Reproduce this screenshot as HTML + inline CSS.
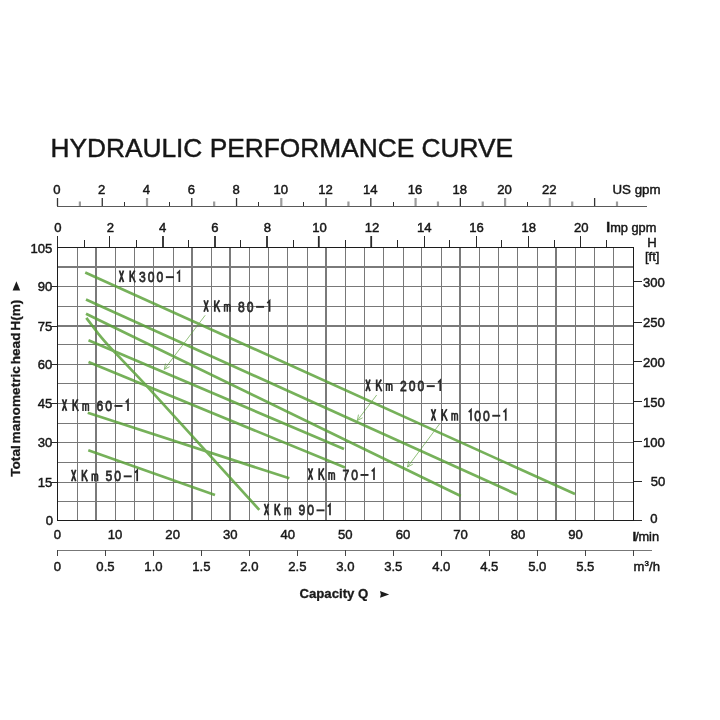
<!DOCTYPE html>
<html><head><meta charset="utf-8"><title>Hydraulic Performance Curve</title>
<style>html,body{margin:0;padding:0;background:#fff;}body{width:720px;height:720px;overflow:hidden;font-family:"Liberation Sans", sans-serif;}svg{display:block;font-family:"Liberation Sans", sans-serif;}</style>
</head><body>
<svg width="720" height="720" viewBox="0 0 720 720">
<rect x="0" y="0" width="720" height="720" fill="#ffffff"/>
<defs><filter id="gs" x="0" y="0" width="100%" height="100%" filterUnits="userSpaceOnUse" color-interpolation-filters="sRGB"><feColorMatrix type="saturate" values="0"/></filter></defs>
<g filter="url(#gs)">
<text x="50.4" y="156.9" font-size="26.3" fill="#161616" stroke="#161616" stroke-width="0.45">HYDRAULIC PERFORMANCE CURVE</text>
</g>
<g shape-rendering="crispEdges">
<rect x="77.00" y="248" width="1" height="272" fill="#787878"/>
<rect x="95.00" y="248" width="2" height="272" fill="#7a7a7a"/>
<rect x="115.00" y="248" width="1" height="272" fill="#787878"/>
<rect x="134.00" y="248" width="1" height="272" fill="#787878"/>
<rect x="153.00" y="248" width="1" height="272" fill="#787878"/>
<rect x="173.00" y="248" width="1" height="272" fill="#787878"/>
<rect x="191.00" y="248" width="2" height="272" fill="#7a7a7a"/>
<rect x="211.00" y="248" width="1" height="272" fill="#787878"/>
<rect x="229.00" y="248" width="2" height="272" fill="#7a7a7a"/>
<rect x="249.00" y="248" width="1" height="272" fill="#787878"/>
<rect x="268.00" y="248" width="1" height="272" fill="#787878"/>
<rect x="287.00" y="248" width="1" height="272" fill="#787878"/>
<rect x="307.00" y="248" width="1" height="272" fill="#787878"/>
<rect x="325.00" y="248" width="2" height="272" fill="#7a7a7a"/>
<rect x="345.00" y="248" width="1" height="272" fill="#787878"/>
<rect x="364.00" y="248" width="1" height="272" fill="#787878"/>
<rect x="383.00" y="248" width="1" height="272" fill="#787878"/>
<rect x="403.00" y="248" width="1" height="272" fill="#787878"/>
<rect x="421.00" y="248" width="1" height="272" fill="#787878"/>
<rect x="441.00" y="248" width="1" height="272" fill="#787878"/>
<rect x="459.00" y="248" width="2" height="272" fill="#7a7a7a"/>
<rect x="479.00" y="248" width="1" height="272" fill="#787878"/>
<rect x="498.00" y="248" width="1" height="272" fill="#787878"/>
<rect x="517.00" y="248" width="1" height="272" fill="#787878"/>
<rect x="537.00" y="248" width="1" height="272" fill="#787878"/>
<rect x="555.00" y="248" width="2" height="272" fill="#7a7a7a"/>
<rect x="575.00" y="248" width="1" height="272" fill="#787878"/>
<rect x="594.00" y="248" width="1" height="272" fill="#787878"/>
<rect x="613.00" y="248" width="1" height="272" fill="#787878"/>
<rect x="58" y="266.00" width="575" height="2" fill="#7a7a7a"/>
<rect x="58" y="286.00" width="575" height="1" fill="#787878"/>
<rect x="58" y="306.00" width="575" height="1" fill="#787878"/>
<rect x="58" y="325.00" width="575" height="2" fill="#7a7a7a"/>
<rect x="58" y="344.00" width="575" height="1" fill="#787878"/>
<rect x="58" y="364.00" width="575" height="1" fill="#787878"/>
<rect x="58" y="383.00" width="575" height="1" fill="#787878"/>
<rect x="58" y="403.00" width="575" height="1" fill="#787878"/>
<rect x="58" y="423.00" width="575" height="1" fill="#787878"/>
<rect x="58" y="442.00" width="575" height="1" fill="#787878"/>
<rect x="58" y="462.00" width="575" height="1" fill="#787878"/>
<rect x="58" y="482.00" width="575" height="1" fill="#787878"/>
<rect x="58" y="501.00" width="575" height="1" fill="#787878"/>
</g>
<path d="M57,247h577v274h-577z M58,248v272h575v-272z" fill="#1c1c1c" fill-rule="evenodd" shape-rendering="crispEdges"/>
<g opacity="0.82">
<line x1="85.25" y1="272.55" x2="575.00" y2="494.00" stroke="#59a037" stroke-width="2.7" stroke-linecap="butt"/>
<line x1="86.00" y1="299.55" x2="517.00" y2="494.50" stroke="#59a037" stroke-width="2.7" stroke-linecap="butt"/>
<line x1="86.00" y1="313.76" x2="460.70" y2="496.00" stroke="#59a037" stroke-width="2.7" stroke-linecap="butt"/>
<line x1="88.50" y1="340.32" x2="344.00" y2="449.00" stroke="#59a037" stroke-width="2.7" stroke-linecap="butt"/>
<line x1="88.50" y1="362.09" x2="345.00" y2="467.50" stroke="#59a037" stroke-width="2.7" stroke-linecap="butt"/>
<line x1="87.75" y1="412.67" x2="289.30" y2="478.30" stroke="#59a037" stroke-width="2.7" stroke-linecap="butt"/>
<line x1="88.30" y1="450.35" x2="215.00" y2="495.00" stroke="#59a037" stroke-width="2.7" stroke-linecap="butt"/>
<path d="M86.3,317.9 L98,333.3 Q106,343 110.6,347.9 L147.1,386.4 L259.3,509.9" fill="none" stroke="#59a037" stroke-width="2.7" stroke-linejoin="round"/>
<line x1="205.20" y1="315.30" x2="164.30" y2="369.40" stroke="#59a037" stroke-width="0.8"/>
<line x1="164.30" y1="369.40" x2="169.64" y2="366.66" stroke="#59a037" stroke-width="0.8"/>
<line x1="164.30" y1="369.40" x2="165.48" y2="363.52" stroke="#59a037" stroke-width="0.8"/>
<line x1="376.70" y1="395.00" x2="357.30" y2="420.50" stroke="#59a037" stroke-width="0.8"/>
<line x1="357.30" y1="420.50" x2="362.65" y2="417.78" stroke="#59a037" stroke-width="0.8"/>
<line x1="357.30" y1="420.50" x2="358.49" y2="414.62" stroke="#59a037" stroke-width="0.8"/>
<line x1="439.50" y1="424.00" x2="407.50" y2="467.00" stroke="#59a037" stroke-width="0.8"/>
<line x1="407.50" y1="467.00" x2="412.82" y2="464.22" stroke="#59a037" stroke-width="0.8"/>
<line x1="407.50" y1="467.00" x2="408.63" y2="461.11" stroke="#59a037" stroke-width="0.8"/>
</g>
<g filter="url(#gs)">
<path d="M119.50,270.50 l4.0,11.60 M123.50,270.50 l-4.0,11.60" stroke="#2b2b2b" stroke-width="1.75" fill="none"/>
<path d="M130.20,270.50 v11.60 M134.80,270.50 l-4.4,7.3 M131.90,275.40 l3.3,6.9" stroke="#2b2b2b" stroke-width="1.75" fill="none"/>
<text transform="translate(142.40,282.10) scale(0.800,1)" text-anchor="middle" font-size="15.2" fill="#2b2b2b" stroke="#2b2b2b" stroke-width="0.75">3</text>
<text transform="translate(151.15,282.10) scale(0.800,1)" text-anchor="middle" font-size="15.2" fill="#2b2b2b" stroke="#2b2b2b" stroke-width="0.75">0</text>
<text transform="translate(159.90,282.10) scale(0.800,1)" text-anchor="middle" font-size="15.2" fill="#2b2b2b" stroke="#2b2b2b" stroke-width="0.75">0</text>
<rect x="165.85" y="276.20" width="8.0" height="1.9" fill="#2b2b2b"/>
<path d="M177.05,273.50 l2.3,-2.3 v10.90" stroke="#2b2b2b" stroke-width="1.7" fill="none" stroke-linejoin="miter"/>
<path d="M204.10,300.20 l4.0,11.60 M208.10,300.20 l-4.0,11.60" stroke="#2b2b2b" stroke-width="1.75" fill="none"/>
<path d="M214.80,300.20 v11.60 M219.40,300.20 l-4.4,7.3 M216.50,305.10 l3.3,6.9" stroke="#2b2b2b" stroke-width="1.75" fill="none"/>
<path d="M224.60,311.80 v-7.9 M224.60,311.80 v-5.6 q0,-1.6 1.35,-1.6 q1.35,0 1.35,1.6 v5.6 M227.30,311.80 v-5.6 q0,-1.6 1.35,-1.6 q1.35,0 1.35,1.6 v5.6" stroke="#2b2b2b" stroke-width="1.55" fill="none"/>
<text transform="translate(241.40,311.80) scale(0.800,1)" text-anchor="middle" font-size="15.2" fill="#2b2b2b" stroke="#2b2b2b" stroke-width="0.75">8</text>
<text transform="translate(250.15,311.80) scale(0.800,1)" text-anchor="middle" font-size="15.2" fill="#2b2b2b" stroke="#2b2b2b" stroke-width="0.75">0</text>
<rect x="256.10" y="305.90" width="8.0" height="1.9" fill="#2b2b2b"/>
<path d="M267.30,303.20 l2.3,-2.3 v10.90" stroke="#2b2b2b" stroke-width="1.7" fill="none" stroke-linejoin="miter"/>
<path d="M62.50,399.30 l4.0,11.60 M66.50,399.30 l-4.0,11.60" stroke="#2b2b2b" stroke-width="1.75" fill="none"/>
<path d="M73.20,399.30 v11.60 M77.80,399.30 l-4.4,7.3 M74.90,404.20 l3.3,6.9" stroke="#2b2b2b" stroke-width="1.75" fill="none"/>
<path d="M83.00,410.90 v-7.9 M83.00,410.90 v-5.6 q0,-1.6 1.35,-1.6 q1.35,0 1.35,1.6 v5.6 M85.70,410.90 v-5.6 q0,-1.6 1.35,-1.6 q1.35,0 1.35,1.6 v5.6" stroke="#2b2b2b" stroke-width="1.55" fill="none"/>
<text transform="translate(99.80,410.90) scale(0.800,1)" text-anchor="middle" font-size="15.2" fill="#2b2b2b" stroke="#2b2b2b" stroke-width="0.75">6</text>
<text transform="translate(108.55,410.90) scale(0.800,1)" text-anchor="middle" font-size="15.2" fill="#2b2b2b" stroke="#2b2b2b" stroke-width="0.75">0</text>
<rect x="114.50" y="405.00" width="8.0" height="1.9" fill="#2b2b2b"/>
<path d="M125.70,402.30 l2.3,-2.3 v10.90" stroke="#2b2b2b" stroke-width="1.7" fill="none" stroke-linejoin="miter"/>
<path d="M71.70,469.70 l4.0,11.60 M75.70,469.70 l-4.0,11.60" stroke="#2b2b2b" stroke-width="1.75" fill="none"/>
<path d="M82.40,469.70 v11.60 M87.00,469.70 l-4.4,7.3 M84.10,474.60 l3.3,6.9" stroke="#2b2b2b" stroke-width="1.75" fill="none"/>
<path d="M92.20,481.30 v-7.9 M92.20,481.30 v-5.6 q0,-1.6 1.35,-1.6 q1.35,0 1.35,1.6 v5.6 M94.90,481.30 v-5.6 q0,-1.6 1.35,-1.6 q1.35,0 1.35,1.6 v5.6" stroke="#2b2b2b" stroke-width="1.55" fill="none"/>
<text transform="translate(109.00,481.30) scale(0.800,1)" text-anchor="middle" font-size="15.2" fill="#2b2b2b" stroke="#2b2b2b" stroke-width="0.75">5</text>
<text transform="translate(117.75,481.30) scale(0.800,1)" text-anchor="middle" font-size="15.2" fill="#2b2b2b" stroke="#2b2b2b" stroke-width="0.75">0</text>
<rect x="123.70" y="475.40" width="8.0" height="1.9" fill="#2b2b2b"/>
<path d="M134.90,472.70 l2.3,-2.3 v10.90" stroke="#2b2b2b" stroke-width="1.7" fill="none" stroke-linejoin="miter"/>
<path d="M308.50,468.30 l4.0,11.60 M312.50,468.30 l-4.0,11.60" stroke="#2b2b2b" stroke-width="1.75" fill="none"/>
<path d="M319.20,468.30 v11.60 M323.80,468.30 l-4.4,7.3 M320.90,473.20 l3.3,6.9" stroke="#2b2b2b" stroke-width="1.75" fill="none"/>
<path d="M329.00,479.90 v-7.9 M329.00,479.90 v-5.6 q0,-1.6 1.35,-1.6 q1.35,0 1.35,1.6 v5.6 M331.70,479.90 v-5.6 q0,-1.6 1.35,-1.6 q1.35,0 1.35,1.6 v5.6" stroke="#2b2b2b" stroke-width="1.55" fill="none"/>
<text transform="translate(345.80,479.90) scale(0.800,1)" text-anchor="middle" font-size="15.2" fill="#2b2b2b" stroke="#2b2b2b" stroke-width="0.75">7</text>
<text transform="translate(354.55,479.90) scale(0.800,1)" text-anchor="middle" font-size="15.2" fill="#2b2b2b" stroke="#2b2b2b" stroke-width="0.75">0</text>
<rect x="360.50" y="474.00" width="8.0" height="1.9" fill="#2b2b2b"/>
<path d="M371.70,471.30 l2.3,-2.3 v10.90" stroke="#2b2b2b" stroke-width="1.7" fill="none" stroke-linejoin="miter"/>
<path d="M264.50,503.70 l4.0,11.60 M268.50,503.70 l-4.0,11.60" stroke="#2b2b2b" stroke-width="1.75" fill="none"/>
<path d="M275.20,503.70 v11.60 M279.80,503.70 l-4.4,7.3 M276.90,508.60 l3.3,6.9" stroke="#2b2b2b" stroke-width="1.75" fill="none"/>
<path d="M285.00,515.30 v-7.9 M285.00,515.30 v-5.6 q0,-1.6 1.35,-1.6 q1.35,0 1.35,1.6 v5.6 M287.70,515.30 v-5.6 q0,-1.6 1.35,-1.6 q1.35,0 1.35,1.6 v5.6" stroke="#2b2b2b" stroke-width="1.55" fill="none"/>
<text transform="translate(301.80,515.30) scale(0.800,1)" text-anchor="middle" font-size="15.2" fill="#2b2b2b" stroke="#2b2b2b" stroke-width="0.75">9</text>
<text transform="translate(310.55,515.30) scale(0.800,1)" text-anchor="middle" font-size="15.2" fill="#2b2b2b" stroke="#2b2b2b" stroke-width="0.75">0</text>
<rect x="316.50" y="509.40" width="8.0" height="1.9" fill="#2b2b2b"/>
<path d="M327.70,506.70 l2.3,-2.3 v10.90" stroke="#2b2b2b" stroke-width="1.7" fill="none" stroke-linejoin="miter"/>
<path d="M366.00,379.50 l4.0,11.60 M370.00,379.50 l-4.0,11.60" stroke="#2b2b2b" stroke-width="1.75" fill="none"/>
<path d="M376.70,379.50 v11.60 M381.30,379.50 l-4.4,7.3 M378.40,384.40 l3.3,6.9" stroke="#2b2b2b" stroke-width="1.75" fill="none"/>
<path d="M386.50,391.10 v-7.9 M386.50,391.10 v-5.6 q0,-1.6 1.35,-1.6 q1.35,0 1.35,1.6 v5.6 M389.20,391.10 v-5.6 q0,-1.6 1.35,-1.6 q1.35,0 1.35,1.6 v5.6" stroke="#2b2b2b" stroke-width="1.55" fill="none"/>
<text transform="translate(403.30,391.10) scale(0.800,1)" text-anchor="middle" font-size="15.2" fill="#2b2b2b" stroke="#2b2b2b" stroke-width="0.75">2</text>
<text transform="translate(412.05,391.10) scale(0.800,1)" text-anchor="middle" font-size="15.2" fill="#2b2b2b" stroke="#2b2b2b" stroke-width="0.75">0</text>
<text transform="translate(420.80,391.10) scale(0.800,1)" text-anchor="middle" font-size="15.2" fill="#2b2b2b" stroke="#2b2b2b" stroke-width="0.75">0</text>
<rect x="426.75" y="385.20" width="8.0" height="1.9" fill="#2b2b2b"/>
<path d="M437.95,382.50 l2.3,-2.3 v10.90" stroke="#2b2b2b" stroke-width="1.7" fill="none" stroke-linejoin="miter"/>
<path d="M431.50,409.10 l4.0,11.60 M435.50,409.10 l-4.0,11.60" stroke="#2b2b2b" stroke-width="1.75" fill="none"/>
<path d="M442.20,409.10 v11.60 M446.80,409.10 l-4.4,7.3 M443.90,414.00 l3.3,6.9" stroke="#2b2b2b" stroke-width="1.75" fill="none"/>
<path d="M452.00,420.70 v-7.9 M452.00,420.70 v-5.6 q0,-1.6 1.35,-1.6 q1.35,0 1.35,1.6 v5.6 M454.70,420.70 v-5.6 q0,-1.6 1.35,-1.6 q1.35,0 1.35,1.6 v5.6" stroke="#2b2b2b" stroke-width="1.55" fill="none"/>
<path d="M468.70,412.10 l2.3,-2.3 v10.90" stroke="#2b2b2b" stroke-width="1.7" fill="none" stroke-linejoin="miter"/>
<text transform="translate(477.55,420.70) scale(0.800,1)" text-anchor="middle" font-size="15.2" fill="#2b2b2b" stroke="#2b2b2b" stroke-width="0.75">0</text>
<text transform="translate(486.30,420.70) scale(0.800,1)" text-anchor="middle" font-size="15.2" fill="#2b2b2b" stroke="#2b2b2b" stroke-width="0.75">0</text>
<rect x="492.25" y="414.80" width="8.0" height="1.9" fill="#2b2b2b"/>
<path d="M503.45,412.10 l2.3,-2.3 v10.90" stroke="#2b2b2b" stroke-width="1.7" fill="none" stroke-linejoin="miter"/>
<rect x="57" y="206" width="590" height="1" fill="#5a5a5a" shape-rendering="crispEdges"/>
<rect x="56.85" y="198" width="1.3" height="8" fill="#333"/>
<rect x="78.78" y="201.5" width="2.2" height="4.5" fill="#9c9c9c"/>
<rect x="101.61" y="198" width="1.3" height="8" fill="#333"/>
<rect x="124.00" y="202" width="1" height="4" fill="#333" shape-rendering="crispEdges"/>
<rect x="145.92" y="198" width="2.2" height="8" fill="#9c9c9c"/>
<rect x="169.00" y="202" width="1" height="4" fill="#333" shape-rendering="crispEdges"/>
<rect x="191.13" y="198" width="1.3" height="8" fill="#333"/>
<rect x="213.06" y="201.5" width="2.2" height="4.5" fill="#9c9c9c"/>
<rect x="235.89" y="198" width="1.3" height="8" fill="#333"/>
<rect x="258.00" y="202" width="1" height="4" fill="#333" shape-rendering="crispEdges"/>
<rect x="280.20" y="198" width="2.2" height="8" fill="#9c9c9c"/>
<rect x="303.00" y="202" width="1" height="4" fill="#333" shape-rendering="crispEdges"/>
<rect x="325.41" y="198" width="1.3" height="8" fill="#333"/>
<rect x="347.34" y="201.5" width="2.2" height="4.5" fill="#9c9c9c"/>
<rect x="370.17" y="198" width="1.3" height="8" fill="#333"/>
<rect x="393.00" y="202" width="1" height="4" fill="#333" shape-rendering="crispEdges"/>
<rect x="414.48" y="198" width="2.2" height="8" fill="#9c9c9c"/>
<rect x="436.86" y="201.5" width="2.2" height="4.5" fill="#9c9c9c"/>
<rect x="459.69" y="198" width="1.3" height="8" fill="#333"/>
<rect x="481.62" y="201.5" width="2.2" height="4.5" fill="#9c9c9c"/>
<rect x="504.00" y="198" width="2.2" height="8" fill="#9c9c9c"/>
<rect x="527.00" y="202" width="1" height="4" fill="#333" shape-rendering="crispEdges"/>
<rect x="548.76" y="198" width="2.2" height="8" fill="#9c9c9c"/>
<rect x="571.14" y="201.5" width="2.2" height="4.5" fill="#9c9c9c"/>
<rect x="593.97" y="198" width="1.3" height="8" fill="#333"/>
<rect x="615.90" y="201.5" width="2.2" height="4.5" fill="#9c9c9c"/>
<text x="57.00" y="193.6" text-anchor="middle" font-size="13.1" fill="#161616" stroke="#161616" stroke-width="0.45">0</text>
<text x="101.76" y="193.6" text-anchor="middle" font-size="13.1" fill="#161616" stroke="#161616" stroke-width="0.45">2</text>
<text x="146.52" y="193.6" text-anchor="middle" font-size="13.1" fill="#161616" stroke="#161616" stroke-width="0.45">4</text>
<text x="191.28" y="193.6" text-anchor="middle" font-size="13.1" fill="#161616" stroke="#161616" stroke-width="0.45">6</text>
<text x="236.04" y="193.6" text-anchor="middle" font-size="13.1" fill="#161616" stroke="#161616" stroke-width="0.45">8</text>
<text x="280.80" y="193.6" text-anchor="middle" font-size="13.1" fill="#161616" stroke="#161616" stroke-width="0.45">10</text>
<text x="325.56" y="193.6" text-anchor="middle" font-size="13.1" fill="#161616" stroke="#161616" stroke-width="0.45">12</text>
<text x="370.32" y="193.6" text-anchor="middle" font-size="13.1" fill="#161616" stroke="#161616" stroke-width="0.45">14</text>
<text x="415.08" y="193.6" text-anchor="middle" font-size="13.1" fill="#161616" stroke="#161616" stroke-width="0.45">16</text>
<text x="459.84" y="193.6" text-anchor="middle" font-size="13.1" fill="#161616" stroke="#161616" stroke-width="0.45">18</text>
<text x="504.60" y="193.6" text-anchor="middle" font-size="13.1" fill="#161616" stroke="#161616" stroke-width="0.45">20</text>
<text x="549.36" y="193.6" text-anchor="middle" font-size="13.1" fill="#161616" stroke="#161616" stroke-width="0.45">22</text>
<text x="612.5" y="193.6" font-size="13.3" fill="#161616" stroke="#161616" stroke-width="0.45">US gpm</text>
<rect x="57.00" y="236.00" width="1" height="11.00" fill="#2a2a2a" shape-rendering="crispEdges"/>
<rect x="84.00" y="240.00" width="1" height="7.00" fill="#2a2a2a" shape-rendering="crispEdges"/>
<rect x="109.00" y="236.00" width="1" height="11.00" fill="#2a2a2a" shape-rendering="crispEdges"/>
<rect x="136.00" y="240.00" width="1" height="7.00" fill="#2a2a2a" shape-rendering="crispEdges"/>
<rect x="162.10" y="236.00" width="1.8" height="11.00" fill="#2a2a2a"/>
<rect x="188.00" y="240.00" width="1" height="7.00" fill="#2a2a2a" shape-rendering="crispEdges"/>
<rect x="214.10" y="236.00" width="1.8" height="11.00" fill="#2a2a2a"/>
<rect x="240.00" y="240.00" width="1" height="7.00" fill="#2a2a2a" shape-rendering="crispEdges"/>
<rect x="266.10" y="236.00" width="1.8" height="11.00" fill="#2a2a2a"/>
<rect x="293.00" y="240.00" width="1" height="7.00" fill="#2a2a2a" shape-rendering="crispEdges"/>
<rect x="317.90" y="236.00" width="1.8" height="11.00" fill="#2a2a2a"/>
<rect x="345.00" y="240.00" width="1" height="7.00" fill="#2a2a2a" shape-rendering="crispEdges"/>
<rect x="370.30" y="236.00" width="1.8" height="11.00" fill="#2a2a2a"/>
<rect x="397.00" y="240.00" width="1" height="7.00" fill="#2a2a2a" shape-rendering="crispEdges"/>
<rect x="424.00" y="236.00" width="1" height="11.00" fill="#2a2a2a" shape-rendering="crispEdges"/>
<rect x="449.00" y="240.00" width="1" height="7.00" fill="#2a2a2a" shape-rendering="crispEdges"/>
<rect x="476.00" y="236.00" width="1" height="11.00" fill="#2a2a2a" shape-rendering="crispEdges"/>
<rect x="501.00" y="240.00" width="1" height="7.00" fill="#2a2a2a" shape-rendering="crispEdges"/>
<rect x="528.00" y="236.00" width="1" height="11.00" fill="#2a2a2a" shape-rendering="crispEdges"/>
<rect x="554.00" y="240.00" width="1" height="7.00" fill="#2a2a2a" shape-rendering="crispEdges"/>
<rect x="580.00" y="236.00" width="1" height="11.00" fill="#2a2a2a" shape-rendering="crispEdges"/>
<rect x="606.00" y="240.00" width="1" height="7.00" fill="#2a2a2a" shape-rendering="crispEdges"/>
<text x="58.00" y="232" text-anchor="middle" font-size="13.1" fill="#161616" stroke="#161616" stroke-width="0.45">0</text>
<text x="110.32" y="232" text-anchor="middle" font-size="13.1" fill="#161616" stroke="#161616" stroke-width="0.45">2</text>
<text x="162.64" y="232" text-anchor="middle" font-size="13.1" fill="#161616" stroke="#161616" stroke-width="0.45">4</text>
<text x="214.96" y="232" text-anchor="middle" font-size="13.1" fill="#161616" stroke="#161616" stroke-width="0.45">6</text>
<text x="267.28" y="232" text-anchor="middle" font-size="13.1" fill="#161616" stroke="#161616" stroke-width="0.45">8</text>
<text x="319.60" y="232" text-anchor="middle" font-size="13.1" fill="#161616" stroke="#161616" stroke-width="0.45">10</text>
<text x="371.92" y="232" text-anchor="middle" font-size="13.1" fill="#161616" stroke="#161616" stroke-width="0.45">12</text>
<text x="424.24" y="232" text-anchor="middle" font-size="13.1" fill="#161616" stroke="#161616" stroke-width="0.45">14</text>
<text x="476.56" y="232" text-anchor="middle" font-size="13.1" fill="#161616" stroke="#161616" stroke-width="0.45">16</text>
<text x="528.88" y="232" text-anchor="middle" font-size="13.1" fill="#161616" stroke="#161616" stroke-width="0.45">18</text>
<text x="581.20" y="232" text-anchor="middle" font-size="13.1" fill="#161616" stroke="#161616" stroke-width="0.45">20</text>
<text x="606.3" y="232" font-size="12.8" fill="#161616" stroke="#161616" stroke-width="0.45"><tspan font-weight="bold" font-size="13.8">I</tspan>mp gpm</text>
<text x="652" y="246.8" text-anchor="middle" font-size="13.1" fill="#161616" stroke="#161616" stroke-width="0.45">H</text>
<text x="652.2" y="260.5" text-anchor="middle" font-size="13.1" fill="#161616" stroke="#161616" stroke-width="0.45">[ft]</text>
<text x="52.3" y="252.90" text-anchor="end" font-size="13.1" fill="#161616" stroke="#161616" stroke-width="0.45">105</text>
<text x="52.3" y="291.20" text-anchor="end" font-size="13.1" fill="#161616" stroke="#161616" stroke-width="0.45">90</text>
<rect x="51" y="286.00" width="6" height="1" fill="#2a2a2a" shape-rendering="crispEdges"/>
<text x="52.3" y="330.80" text-anchor="end" font-size="13.1" fill="#161616" stroke="#161616" stroke-width="0.45">75</text>
<rect x="51" y="326.00" width="6" height="1" fill="#2a2a2a" shape-rendering="crispEdges"/>
<text x="52.3" y="369.00" text-anchor="end" font-size="13.1" fill="#161616" stroke="#161616" stroke-width="0.45">60</text>
<rect x="51" y="364.00" width="6" height="1" fill="#2a2a2a" shape-rendering="crispEdges"/>
<text x="52.3" y="408.00" text-anchor="end" font-size="13.1" fill="#161616" stroke="#161616" stroke-width="0.45">45</text>
<rect x="51" y="403.00" width="6" height="1" fill="#2a2a2a" shape-rendering="crispEdges"/>
<text x="52.3" y="447.20" text-anchor="end" font-size="13.1" fill="#161616" stroke="#161616" stroke-width="0.45">30</text>
<rect x="51" y="442.00" width="6" height="1" fill="#2a2a2a" shape-rendering="crispEdges"/>
<text x="52.3" y="487.10" text-anchor="end" font-size="13.1" fill="#161616" stroke="#161616" stroke-width="0.45">15</text>
<rect x="51" y="482.00" width="6" height="1" fill="#2a2a2a" shape-rendering="crispEdges"/>
<text x="53.1" y="524.60" text-anchor="end" font-size="13.1" fill="#161616" stroke="#161616" stroke-width="0.45">0</text>
<text transform="translate(19.7,476.8) rotate(-90)" font-size="13.65" font-weight="bold" word-spacing="-2" fill="#1a1a1a" stroke="#1a1a1a" stroke-width="0.3">Total manometric head H(m)</text>
<path d="M12.6,290.6 L20.2,290.6 L16.4,281.2 Z" fill="#1c1c1c"/>
<rect x="634" y="520.00" width="8.0" height="1" fill="#2a2a2a" shape-rendering="crispEdges"/>
<text x="650.3" y="522.60" font-size="13.1" fill="#161616" stroke="#161616" stroke-width="0.45">0</text>
<rect x="634" y="481.00" width="8.0" height="1" fill="#2a2a2a" shape-rendering="crispEdges"/>
<text x="650.8" y="485.50" font-size="13.1" fill="#161616" stroke="#161616" stroke-width="0.45">50</text>
<rect x="634" y="441.00" width="8.0" height="1" fill="#2a2a2a" shape-rendering="crispEdges"/>
<text x="643" y="446.70" font-size="13.1" fill="#161616" stroke="#161616" stroke-width="0.45">100</text>
<rect x="634" y="401.00" width="8.0" height="1" fill="#2a2a2a" shape-rendering="crispEdges"/>
<text x="643" y="406.70" font-size="13.1" fill="#161616" stroke="#161616" stroke-width="0.45">150</text>
<rect x="634" y="361.00" width="8.0" height="1" fill="#2a2a2a" shape-rendering="crispEdges"/>
<text x="643" y="366.70" font-size="13.1" fill="#161616" stroke="#161616" stroke-width="0.45">200</text>
<rect x="634" y="322.00" width="8.0" height="1" fill="#2a2a2a" shape-rendering="crispEdges"/>
<text x="643" y="327.30" font-size="13.1" fill="#161616" stroke="#161616" stroke-width="0.45">250</text>
<rect x="634" y="281.00" width="8.0" height="1" fill="#2a2a2a" shape-rendering="crispEdges"/>
<text x="643" y="286.70" font-size="13.1" fill="#161616" stroke="#161616" stroke-width="0.45">300</text>
<text x="57.50" y="538.8" text-anchor="middle" font-size="13.1" fill="#161616" stroke="#161616" stroke-width="0.45">0</text>
<text x="115.07" y="538.8" text-anchor="middle" font-size="13.1" fill="#161616" stroke="#161616" stroke-width="0.45">10</text>
<text x="172.64" y="538.8" text-anchor="middle" font-size="13.1" fill="#161616" stroke="#161616" stroke-width="0.45">20</text>
<text x="230.21" y="538.8" text-anchor="middle" font-size="13.1" fill="#161616" stroke="#161616" stroke-width="0.45">30</text>
<text x="287.78" y="538.8" text-anchor="middle" font-size="13.1" fill="#161616" stroke="#161616" stroke-width="0.45">40</text>
<text x="345.35" y="538.8" text-anchor="middle" font-size="13.1" fill="#161616" stroke="#161616" stroke-width="0.45">50</text>
<text x="402.92" y="538.8" text-anchor="middle" font-size="13.1" fill="#161616" stroke="#161616" stroke-width="0.45">60</text>
<text x="460.49" y="538.8" text-anchor="middle" font-size="13.1" fill="#161616" stroke="#161616" stroke-width="0.45">70</text>
<text x="518.06" y="538.8" text-anchor="middle" font-size="13.1" fill="#161616" stroke="#161616" stroke-width="0.45">80</text>
<text x="575.63" y="538.8" text-anchor="middle" font-size="13.1" fill="#161616" stroke="#161616" stroke-width="0.45">90</text>
<text x="632.4" y="540.5" font-size="12.8" fill="#161616" stroke="#161616" stroke-width="0.45"><tspan font-weight="bold" font-size="13.6">l</tspan><tspan dx="-0.9">/</tspan><tspan dx="-0.4">min</tspan></text>
<rect x="57" y="550.00" width="595" height="1" fill="#777" shape-rendering="crispEdges"/>
<rect x="57.00" y="550.00" width="1" height="6" fill="#444" shape-rendering="crispEdges"/>
<text x="57.50" y="570.8" text-anchor="middle" font-size="13.1" fill="#161616" stroke="#161616" stroke-width="0.45">0</text>
<rect x="105.00" y="550.00" width="1" height="6" fill="#444" shape-rendering="crispEdges"/>
<text x="105.47" y="570.8" text-anchor="middle" font-size="13.1" fill="#161616" stroke="#161616" stroke-width="0.45">0.5</text>
<rect x="153.00" y="550.00" width="1" height="6" fill="#444" shape-rendering="crispEdges"/>
<text x="153.45" y="570.8" text-anchor="middle" font-size="13.1" fill="#161616" stroke="#161616" stroke-width="0.45">1.0</text>
<rect x="201.00" y="550.00" width="1" height="6" fill="#444" shape-rendering="crispEdges"/>
<text x="201.43" y="570.8" text-anchor="middle" font-size="13.1" fill="#161616" stroke="#161616" stroke-width="0.45">1.5</text>
<rect x="249.00" y="550.00" width="1" height="6" fill="#444" shape-rendering="crispEdges"/>
<text x="249.40" y="570.8" text-anchor="middle" font-size="13.1" fill="#161616" stroke="#161616" stroke-width="0.45">2.0</text>
<rect x="297.00" y="550.00" width="1" height="6" fill="#444" shape-rendering="crispEdges"/>
<text x="297.38" y="570.8" text-anchor="middle" font-size="13.1" fill="#161616" stroke="#161616" stroke-width="0.45">2.5</text>
<rect x="345.00" y="550.00" width="1" height="6" fill="#444" shape-rendering="crispEdges"/>
<text x="345.35" y="570.8" text-anchor="middle" font-size="13.1" fill="#161616" stroke="#161616" stroke-width="0.45">3.0</text>
<rect x="393.00" y="550.00" width="1" height="6" fill="#444" shape-rendering="crispEdges"/>
<text x="393.32" y="570.8" text-anchor="middle" font-size="13.1" fill="#161616" stroke="#161616" stroke-width="0.45">3.5</text>
<rect x="441.00" y="550.00" width="1" height="6" fill="#444" shape-rendering="crispEdges"/>
<text x="441.30" y="570.8" text-anchor="middle" font-size="13.1" fill="#161616" stroke="#161616" stroke-width="0.45">4.0</text>
<rect x="489.00" y="550.00" width="1" height="6" fill="#444" shape-rendering="crispEdges"/>
<text x="489.28" y="570.8" text-anchor="middle" font-size="13.1" fill="#161616" stroke="#161616" stroke-width="0.45">4.5</text>
<rect x="537.00" y="550.00" width="1" height="6" fill="#444" shape-rendering="crispEdges"/>
<text x="537.25" y="570.8" text-anchor="middle" font-size="13.1" fill="#161616" stroke="#161616" stroke-width="0.45">5.0</text>
<rect x="585.00" y="550.00" width="1" height="6" fill="#444" shape-rendering="crispEdges"/>
<text x="585.23" y="570.8" text-anchor="middle" font-size="13.1" fill="#161616" stroke="#161616" stroke-width="0.45">5.5</text>
<rect x="633.00" y="550.00" width="1" height="6" fill="#444" shape-rendering="crispEdges"/>
<text x="633.5" y="570.8" font-size="13.1" fill="#161616" stroke="#161616" stroke-width="0.45">m<tspan font-size="8" dy="-5" dx="0.2">3</tspan><tspan dy="5" dx="0">/h</tspan></text>
<text x="299.4" y="597.6" font-size="13.2" font-weight="bold" fill="#1a1a1a" stroke="#1a1a1a" stroke-width="0.3">Capacity Q</text>
<path d="M380,591 L389.2,594.4 L380,597.8 L380.8,594.4 Z" fill="#1c1c1c"/>
</g>
</svg>
</body></html>
